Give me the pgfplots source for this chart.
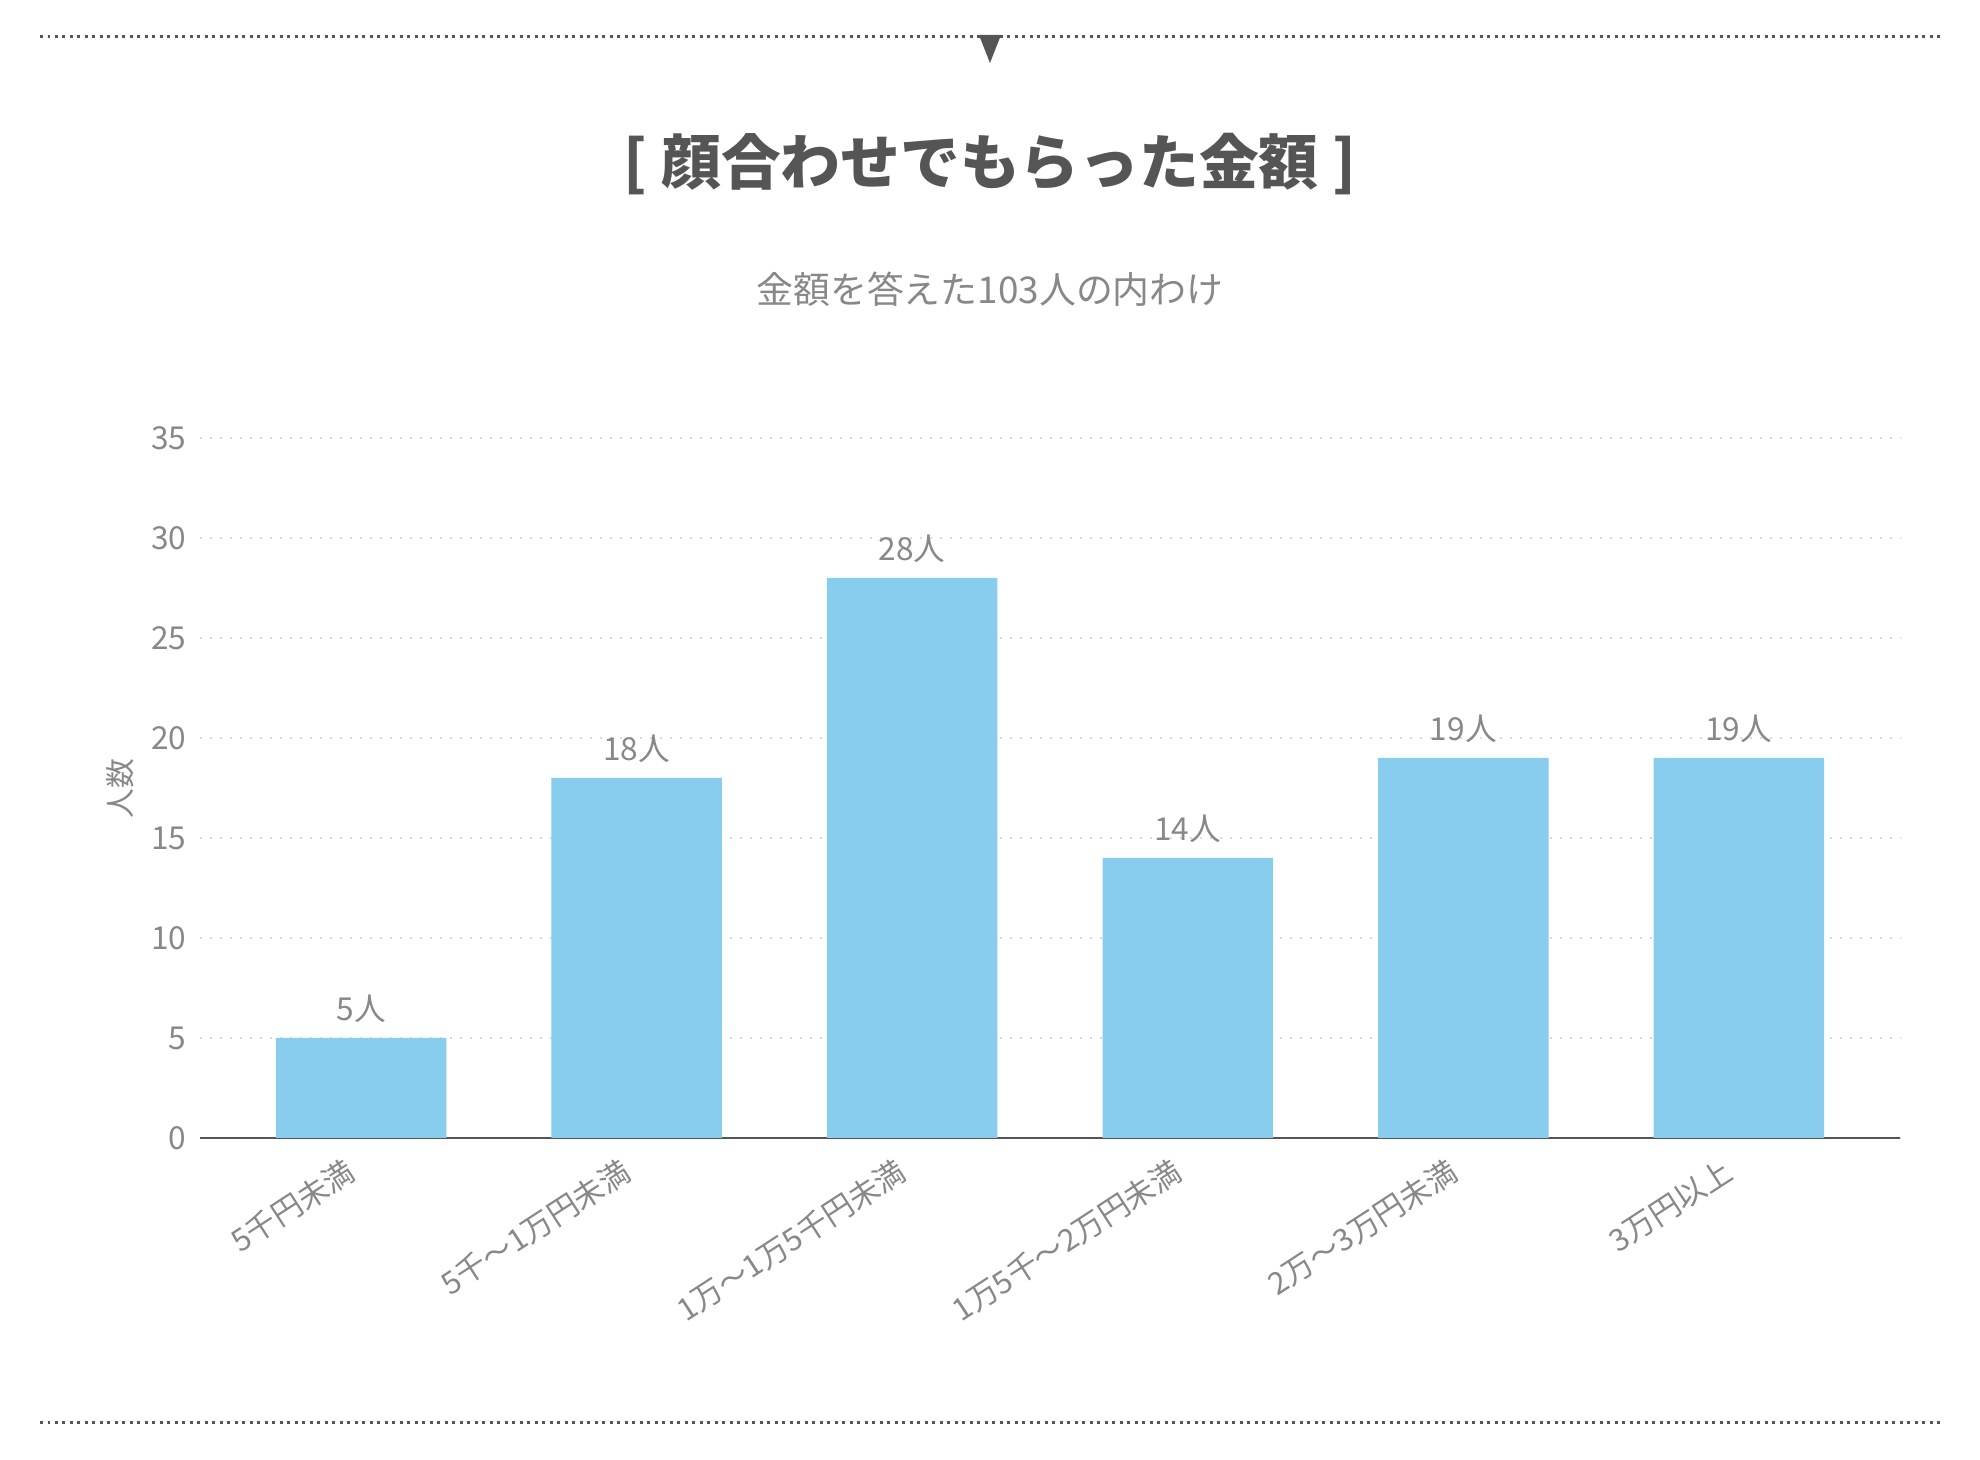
\documentclass[border=0pt]{standalone}
\usepackage{fontspec}
\setmainfont{Noto Sans CJK JP}
\usepackage{pgfplots}
\pgfplotsset{compat=1.18}
\definecolor{titlegray}{HTML}{555555}
\definecolor{txtgray}{HTML}{888888}
\definecolor{gridgray}{HTML}{DADADA}
\definecolor{barblue}{HTML}{89CDEE}
\definecolor{axisgray}{HTML}{555555}
\begin{document}
\begin{tikzpicture}[x=0.1mm,y=0.1mm]
\path (0,0) rectangle (1980,1460);
% decorations
\draw[titlegray, line width=0.3mm, dash pattern=on 0.3mm off 0.45mm] (40,1423) -- (1941,1423);
\draw[titlegray, line width=0.3mm, dash pattern=on 0.3mm off 0.45mm] (40,37) -- (1941,37);
\fill[titlegray] (979,1425) -- (1001,1425) -- (990,1397) -- cycle;
\node[font=\fontsize{17pt}{19pt}\selectfont\bfseries, text=titlegray, inner sep=0] at (990,1296) {[ 顔合わせでもらった金額 ]};
\node[font=\fontsize{10.5pt}{12pt}\selectfont, text=txtgray, inner sep=0] at (990,1171) {金額を答えた103人の内わけ};
\node[font=\fontsize{8.5pt}{10pt}\selectfont, text=txtgray, inner sep=0, rotate=90] at (120,671) {人数};
\begin{axis}[
  at={(20mm,32.2mm)}, anchor=south west,
  scale only axis, width=170mm, height=70mm,
  xmin=-0.585, xmax=5.585, ymin=0, ymax=35,
  ytick={0,5,...,35},
  xtick={0,1,2,3,4,5},
  xticklabels={5千円未満,5千～1万円未満,1万～1万5千円未満,1万5千～2万円未満,2万～3万円未満,3万円以上},
  /pgf/number format/assume math mode=true,
  axis lines=left,
  axis line style={-},
  y axis line style={draw=none},
  x axis line style={draw=axisgray, line width=0.25mm},
  major tick length=0pt,
  ymajorgrids,
  grid style={gridgray, line width=0.25mm, dash pattern=on 0.25mm off 0.75mm},
  tick label style={font=\fontsize{9pt}{10pt}\selectfont, text=txtgray},
  yticklabel style={anchor=east, inner sep=0pt, xshift=-1.3mm},
  xticklabel style={font=\fontsize{8.7pt}{10pt}\selectfont, rotate=33, anchor=north east, inner sep=0pt, xshift=-2.4mm, yshift=-0.5mm},
  ybar, bar width=17.05mm,
  nodes near coords={\pgfmathprintnumber{\pgfplotspointmeta}人},
  every node near coord/.append style={font=\fontsize{9pt}{10pt}\selectfont, text=txtgray, anchor=south, inner sep=0pt, yshift=1.5mm},
  clip=false,
]
\addplot[fill=barblue, draw=none] coordinates {(0,5) (1,18) (2,28) (3,14) (4,19) (5,19)};
\end{axis}
\end{tikzpicture}
\end{document}
